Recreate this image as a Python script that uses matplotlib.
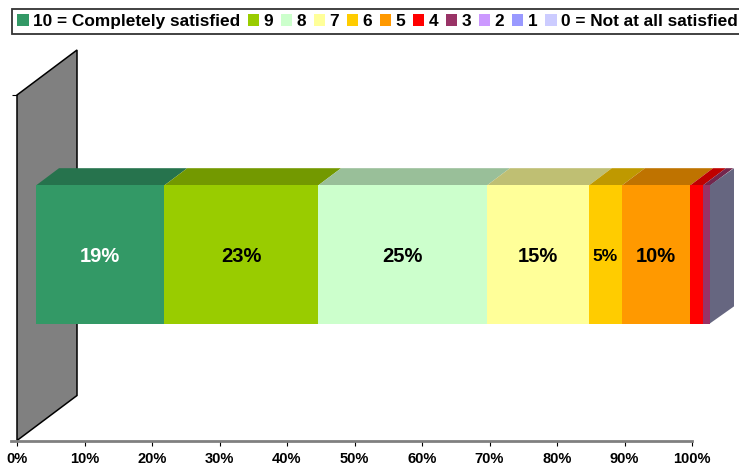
import matplotlib
matplotlib.use('Agg')
import matplotlib.pyplot as plt
from matplotlib.colors import to_rgb
from matplotlib.patches import Patch, Polygon

plt.rcParams['font.family'] = ['Liberation Sans', 'DejaVu Sans']
plt.rcParams['font.weight'] = 'bold'

# answer categories and share of respondents (%)
categories = ['10 = Completely satisfied', '9', '8', '7', '6', '5', '4', '3', '2', '1', '0 = Not at all satisfied']
values = [19, 22.8, 25, 15.1, 4.9, 10.1, 1.9, 1.1, 0, 0, 0]
colors = ['#339966', '#99CC00', '#CCFFCC', '#FFFF99', '#FFCC00', '#FF9900',
          '#FF0000', '#993366', '#CC99FF', '#9999FF', '#CCCCFF']
bar_labels = ['19%', '23%', '25%', '15%', '5%', '10%']
label_colors = ['white', 'black', 'black', 'black', 'black', 'black']
label_sizes = [14.5, 14.5, 14.5, 14.5, 12.5, 14.5]
xticks = [0, 10, 20, 30, 40, 50, 60, 70, 80, 90, 100]

W, H = 739, 466
fig = plt.figure(figsize=(W / 100, H / 100), dpi=100)
ax = fig.add_axes([17 / W, (H - 440.5) / H, 675 / W, 345.5 / H])
ax.set_xlim(0, 100)
ax.set_ylim(0, 1)

# oblique projection, depth d runs 0 (front of floor) to 1 (back wall)
DX = 60 / 6.75
DY = 45 / 345.5


def pt(x, y, d):
    return (x + DX * d, y + DY * d)


def shade(c, f):
    return tuple(v * f for v in to_rgb(c))


def face(pts, color, **kw):
    ax.add_patch(Polygon(pts, closed=True, facecolor=color, clip_on=False, **kw))


# grey side wall
face([pt(0, 0, 0), pt(0, 0, 1), pt(0, 1, 1), pt(0, 1, 0)], '#808080',
     edgecolor='black', linewidth=1.1, zorder=1)

# stacked bar
d0, d1 = 19 / 60, 42 / 60
y0, y1 = 0.297, 0.697
left = 0
for v, c in zip(values, colors):
    right = left + v
    if v > 0:
        face([pt(left, y0, d0), pt(right, y0, d0), pt(right, y1, d0), pt(left, y1, d0)],
             c, edgecolor='none', zorder=3)
        face([pt(left, y1, d0), pt(right, y1, d0), pt(right, y1, d1), pt(left, y1, d1)],
             shade(c, 0.75), edgecolor='none', zorder=2)
    left = right
# right end takes the colour of the last category, slid under the front to hide the seam
face([pt(99.8, y0, d0), pt(100, y0, d1), pt(100, y1, d1), pt(99.8, y1, d0)],
     shade(colors[-1], 0.5), edgecolor='none', zorder=2)

left = 0
for v, s, tc, fs in zip(values, bar_labels, label_colors, label_sizes):
    x, y = pt(left + v / 2, (y0 + y1) / 2, d0)
    ax.text(x, y, s, color=tc, fontsize=fs, ha='center', va='center_baseline', zorder=5)
    left += v

for side in ['top', 'right', 'left']:
    ax.spines[side].set_visible(False)
ax.spines['bottom'].set_color('#808080')
ax.spines['bottom'].set_linewidth(2)
ax.spines['bottom'].set_bounds(-0.9, 100)
ax.set_xticks(xticks)
ax.set_xticklabels([f'{t}%' for t in xticks], fontsize=10.5, fontweight='bold')
ax.tick_params(axis='x', length=3.5, width=0.8, pad=5, color='black')
ax.set_yticks([1])
ax.set_yticklabels([''])
ax.tick_params(axis='y', length=3.5, width=0.8, color='black')

handles = [Patch(facecolor=c, edgecolor='none') for c in colors]
leg = fig.legend(handles, categories, ncol=len(categories), loc='upper left',
                 bbox_to_anchor=(12 / W, 1 - 9 / H),
                 fontsize=12.4, frameon=True, fancybox=False, edgecolor='black',
                 handlelength=0.66, handleheight=0.66, handletextpad=0.24,
                 columnspacing=0.46, borderpad=0.3, borderaxespad=0)
leg.get_frame().set_linewidth(1.3)

fig.savefig('out.png', dpi=100)
